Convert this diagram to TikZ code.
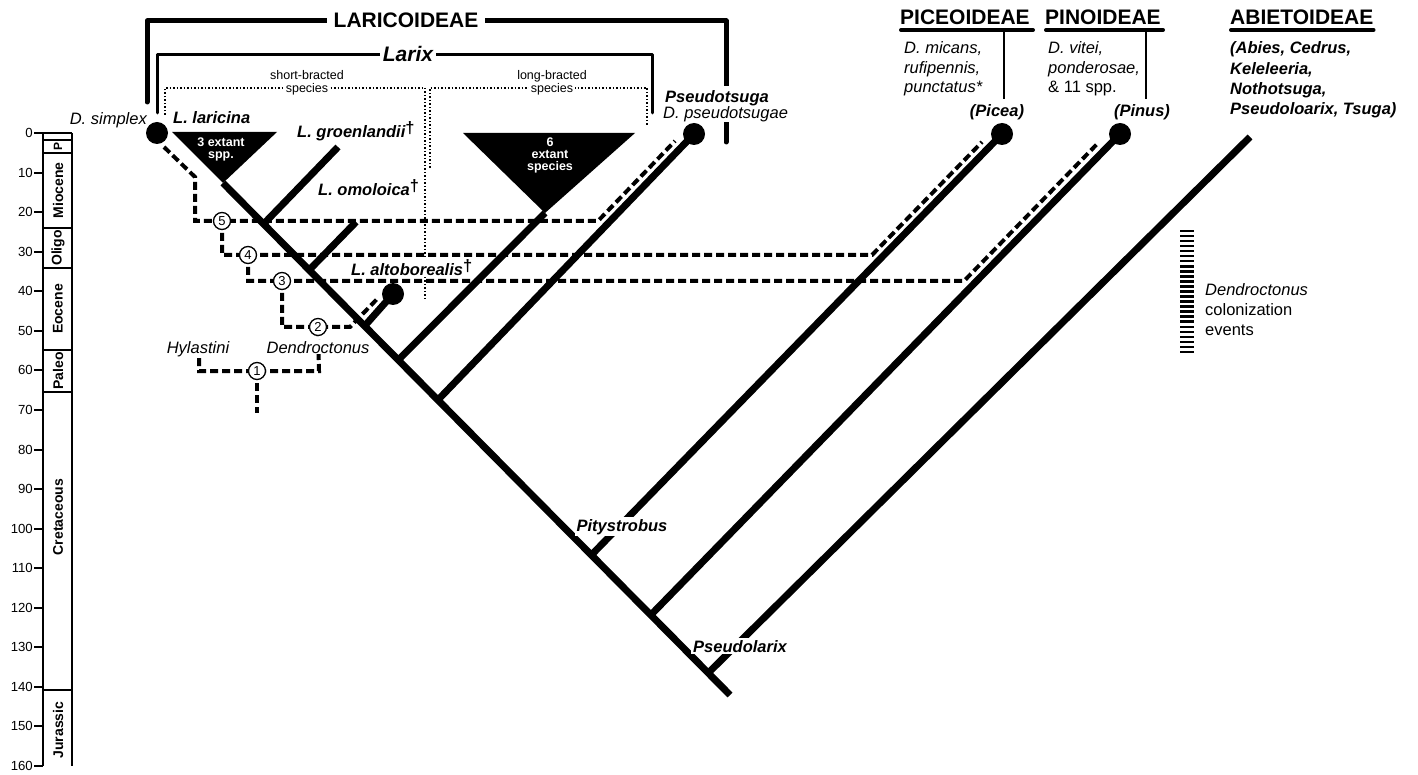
\documentclass[tikz,border=0pt]{standalone}
\usepackage{fontspec}
\setmainfont{Liberation Sans}
\newcommand{\mydag}{\raisebox{4pt}{\upshape\bfseries †}}
\begin{document}
\begin{tikzpicture}[x=1pt,y=-1pt,
  lab/.style={inner sep=0pt,font=\fontsize{16.5}{19.8}\selectfont\itshape},
  rlab/.style={inner sep=0pt,font=\fontsize{16.5}{19.8}\selectfont},
  blab/.style={inner sep=0pt,font=\fontsize{16.5}{19.8}\selectfont\bfseries\itshape},
  small/.style={inner sep=0pt,font=\fontsize{12.5}{13}\selectfont},
  head/.style={inner sep=0pt,font=\fontsize{21}{24}\selectfont\bfseries},
  per/.style={inner sep=0pt,rotate=90,font=\fontsize{14}{14}\selectfont\bfseries},
  tick/.style={inner sep=0pt,anchor=east,font=\fontsize{13.2}{14}\selectfont},
  tri/.style={inner sep=0pt,anchor=base,text=white,font=\fontsize{12.5}{12}\selectfont\bfseries},
  knock/.style={fill=white,inner sep=2pt},
  branch/.style={line width=7pt},
  hostpath/.style={line width=4pt,dash pattern=on 8pt off 4pt},
  dotbox/.style={line width=1.5pt,dash pattern=on 1.5pt off 2pt},
  bracket/.style={line width=5pt,line cap=round,line join=round},
  tip/.style={circle,fill=black,inner sep=0pt,minimum size=22pt},
  ev/.style={circle,draw,fill=white,line width=1.3pt,inner sep=0pt,minimum size=17pt,font=\fontsize{13}{13}\selectfont},
]
\fill[white] (0,0) rectangle (1418,775);
\useasboundingbox (0,0) rectangle (1418,775);

% ---------------- time axis ----------------
\draw[line width=2pt] (43,133) -- (43,766);
\draw[line width=1.5pt] (72,133) -- (72,766);
\foreach \t in {0,10,...,160}{
  \draw[line width=2pt] (34,{133+3.9563*\t}) -- (43,{133+3.9563*\t});
  \node[tick] (tk\t) at (33,{133+3.9563*\t}) {\t};
}
\foreach \yy in {133,140,153,228,268,350,392,690}
  \draw[line width=1.5pt] (43,\yy) -- (72,\yy);
\node[per,font=\fontsize{12}{12}\selectfont\bfseries] (pP) at (58,146.5) {P};
\node[per] (pMio) at (58,190.5) {Miocene};
\node[per] (pOli) at (58,248) {Oligo};
\node[per] (pEoc) at (58,309) {Eocene};
\node[per] (pPal) at (58,371) {Paleo};
\node[per] (pCre) at (58,517) {Cretaceous};
\node[per] (pJur) at (58,730) {Jurassic};

% ---------------- dotted boxes ----------------
\draw[dotbox] (165,115) -- (165,88) -- (425,88) -- (425,299);
\draw[dotbox] (430,168) -- (430,88) -- (647,88) -- (647,127);
\node[small,anchor=base] (sb1) at (307,80) {short-bracted};
\node[small,anchor=base,fill=white,inner xsep=2pt,inner ysep=0.5pt] (sb2) at (307,92.5) {species};
\node[small,anchor=base] (lb1) at (552,80) {long-bracted};
\node[small,anchor=base,fill=white,inner xsep=2pt,inner ysep=0.5pt] (lb2) at (552,92.5) {species};

% ---------------- brackets ----------------
\draw[bracket] (147,102) -- (147,21) -- (726,21) -- (726,142);
\node[head,anchor=base,fill=white,inner xsep=7pt,inner ysep=3pt] (laric) at (406,28) {LARICOIDEAE};
\draw[bracket,line width=3pt] (157,113) -- (157,55) -- (652,55) -- (652,113);
\node[anchor=base,fill=white,inner xsep=3pt,inner ysep=3pt,font=\fontsize{21}{24}\selectfont\bfseries\itshape] (larix) at (408,62) {Larix};

% ---------------- subfamily headers ----------------
\node[head,anchor=base west] (piceo) at (900,25) {PICEOIDEAE};
\draw[line width=4pt,line cap=round] (901,30) -- (1033,30);
\draw[line width=2pt] (1004,30) -- (1004,99);
\node[head,anchor=base west] (pino) at (1045,25) {PINOIDEAE};
\draw[line width=4pt,line cap=round] (1046,30) -- (1163,30);
\draw[line width=2pt] (1146,30) -- (1146,99);
\node[head,anchor=base west] (abieto) at (1230,25) {ABIETOIDEAE};
\draw[line width=4pt,line cap=round] (1231,30) -- (abieto.base east |- 0,30);

\node[lab,anchor=base west] (pc1) at (904,54) {D. micans,};
\node[lab,anchor=base west] (pc2) at (904,74) {rufipennis,};
\node[lab,anchor=base west] (pc3) at (904,93) {punctatus*};
\node[lab,anchor=base west] (pn1) at (1048,54) {D. vitei,};
\node[lab,anchor=base west] (pn2) at (1048,74) {ponderosae,};
\node[rlab,anchor=base west] (pn3) at (1048,93) {\& 11 spp.};
\node[blab,anchor=base west] (ab1) at (1230,54) {(Abies, Cedrus,};
\node[blab,anchor=base west] (ab2) at (1230,74.5) {Keleleeria,};
\node[blab,anchor=base west] (ab3) at (1230,94.5) {Nothotsuga,};
\node[blab,anchor=base west] (ab4) at (1230,114.5) {Pseudoloarix, Tsuga)};

% ---------------- coordinates ----------------
\coordinate (apex3) at (223,183);
\coordinate (trunkend) at (730,695);
\coordinate (jg) at (263.6,224);
\coordinate (jo) at (309.2,270);
\coordinate (ja) at (364.6,326);
\coordinate (js) at (398.3,360);
\coordinate (jpt) at (437.9,400);
\coordinate (jpi) at (591.4,555);
\coordinate (jpn) at (650.8,615);
\coordinate (jpl) at (708.2,673);
\coordinate (groenend) at (338,147);
\coordinate (omolend) at (356,222);
\coordinate (apex6) at (545,213);
\coordinate (abend) at (1250,137);
\coordinate (simplexc) at (157,133);
\coordinate (pstc) at (694,134);
\coordinate (picc) at (1002,134);
\coordinate (pinc) at (1120,134);
\coordinate (altoc) at (393,294);
\coordinate (e5) at (222,221);
\coordinate (e4) at (248,255);
\coordinate (e3) at (282,281);
\coordinate (e2) at (318,327);
\coordinate (e1) at (257,371);

% ---------------- Dendroctonus host paths ----------------
\coordinate (h5a) at (164,147);
\coordinate (h5b) at (195,177);
\coordinate (h5c) at (195,221);
\coordinate (h5d) at (598,221);
\coordinate (h5e) at (675,141);
\draw[hostpath] (h5a) -- (h5b) -- (h5c) -- (h5d) -- (h5e);
\coordinate (h4a) at (222,255);
\coordinate (h4b) at (872,255);
\coordinate (h4c) at (982,142);
\draw[hostpath] (e5) -- (h4a) -- (h4b) -- (h4c);
\coordinate (h3a) at (248,281);
\coordinate (h3b) at (964,281);
\coordinate (h3c) at (1099,142);
\draw[hostpath] (e4) -- (h3a) -- (h3b) -- (h3c);
\coordinate (h2a) at (282,327);
\coordinate (h2b) at (350,327);
\coordinate (h2c) at (379,297);
\draw[hostpath] (e3) -- (h2a) -- (h2b) -- (h2c);
\coordinate (h1a) at (199,358);
\coordinate (h1b) at (199,371);
\coordinate (h1c) at (319,371);
\draw[hostpath] (h1a) -- (h1b) -- (h1c) -- (e2);
\coordinate (h1d) at (257,413);
\draw[hostpath] (e1) -- (h1d);

% ---------------- tree ----------------
\fill (172,132) -- (277,132) -- (apex3) -- cycle;
\fill (463,133) -- (635,133) -- (apex6) -- cycle;
\draw[branch] (apex3) -- (trunkend);
\draw[branch] (jg) -- (groenend);
\draw[branch] (jo) -- (omolend);
\draw[branch] (ja) -- (altoc);
\draw[branch] (js) -- (apex6);
\draw[branch] (jpt) -- (pstc);
\draw[branch] (jpi) -- (picc);
\draw[branch] (jpn) -- (pinc);
\draw[branch] (jpl) -- (abend);
\node[tip] (simplex) at (simplexc) {};
\node[tip] (pstip) at (pstc) {};
\node[tip] (piceatip) at (picc) {};
\node[tip] (pinustip) at (pinc) {};
\node[tip] (altotip) at (altoc) {};

\node[tri] (t3a) at (221,146.5) {3 extant};
\node[tri] (t3b) at (221,158.5) {spp.};
\node[tri] (t6a) at (550,147) {6};
\node[tri] (t6b) at (550,159) {extant};
\node[tri] (t6c) at (550,171) {species};

% ---------------- labels ----------------
\node[lab,anchor=base east] (dsimplex) at (147,125) {D. simplex};
\node[blab,anchor=base west] (llaricina) at (173,124) {L. laricina};
\node[blab,anchor=base west] (lgroen) at (297,138) {L. groenlandii\mydag};
\node[blab,anchor=base west] (lomol) at (318,196) {L. omoloica\mydag};
\node[blab,anchor=base west,fill=white,inner sep=1pt] (lalto) at (350,276) {L. altoborealis\mydag};
\node[blab,anchor=base west,fill=white,inner xsep=2pt,inner ysep=5pt] (pseudotsuga) at (663,103) {Pseudotsuga};
\node[lab,anchor=base west,fill=white,inner xsep=2pt,inner ysep=0pt] (dpseudo) at (661,119) {D. pseudotsugae};
\node[blab,anchor=base] (picea) at (997,117) {(Picea)};
\node[blab,anchor=base] (pinus) at (1142,117) {(Pinus)};
\node[blab,anchor=base,knock] (pity) at (622,531) {Pitystrobus};
\node[blab,anchor=base,knock] (pseudolarix) at (740,652) {Pseudolarix};
\node[lab,anchor=base] (hylastini) at (198,353) {Hylastini};
\node[lab,anchor=base,knock,inner ysep=1pt] (dendro) at (318,353) {Dendroctonus};

% ---------------- event circles ----------------
\node[ev] (ev5) at (e5) {5};
\node[ev] (ev4) at (e4) {4};
\node[ev] (ev3) at (e3) {3};
\node[ev] (ev2) at (e2) {2};
\node[ev] (ev1) at (e1) {1};

% ---------------- legend ----------------
\foreach \i in {0,...,24}
  \draw[line width=2.5pt] (1180,{231+5.04*\i}) -- (1194,{231+5.04*\i});
\node[lab,anchor=base west] (leg1) at (1205,296) {Dendroctonus};
\node[rlab,anchor=base west] (leg2) at (1205,316) {colonization};
\node[rlab,anchor=base west] (leg3) at (1205,336) {events};
\end{tikzpicture}
\end{document}
